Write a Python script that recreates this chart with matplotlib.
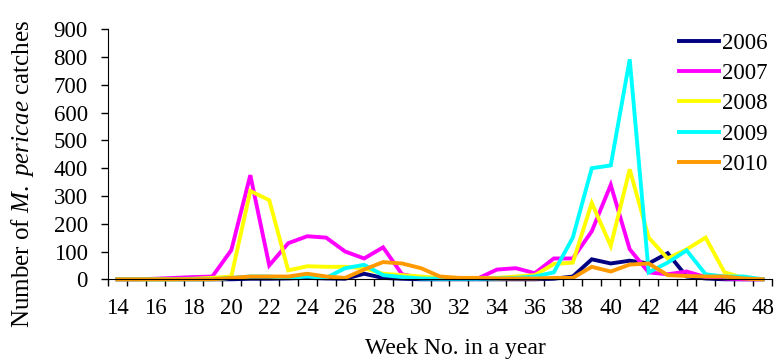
import matplotlib
matplotlib.use('Agg')
import matplotlib.pyplot as plt
from matplotlib.ticker import MultipleLocator, FixedLocator, FuncFormatter

plt.rcParams['font.family'] = 'Liberation Serif'
plt.rcParams['mathtext.fontset'] = 'custom'
plt.rcParams['mathtext.rm'] = 'Liberation Serif'
plt.rcParams['mathtext.it'] = 'Liberation Serif:italic'

weeks = list(range(14, 49))

# catches per week
y2006 = [0, 0, 0, 0, 0, 0, 0, 2, 2, 3, 5, 3, 2, 20, 5, 2, 0, 0, 0, 0,
         0, 0, 0, 2, 10, 72, 57, 67, 57, 94, 10, 3, 0, 0, 0]
y2007 = [0, 0, 2, 5, 8, 10, 105, 375, 50, 130, 155, 150, 100, 75, 115, 18, 5, 4, 5, 3,
         35, 40, 22, 75, 75, 173, 340, 108, 25, 18, 28, 8, 3, 0, 0]
y2008 = [0, 0, 0, 0, 2, 5, 10, 318, 285, 32, 47, 45, 45, 40, 20, 15, 10, 5, 5, 5,
         5, 10, 15, 55, 60, 275, 120, 396, 150, 75, 108, 150, 25, 5, 0]
y2009 = [0, 0, 0, 0, 0, 0, 5, 10, 10, 5, 10, 5, 40, 52, 15, 8, 3, 2, 2, 2,
         3, 5, 10, 25, 150, 400, 410, 792, 25, 60, 104, 18, 10, 10, 0]
y2010 = [0, 0, 0, 0, 0, 0, 5, 10, 10, 10, 20, 10, 5, 35, 62, 57, 40, 10, 5, 5,
         3, 3, 3, 5, 5, 45, 28, 53, 57, 15, 12, 10, 10, 3, 0]

series = [('2006', y2006, '#000080'),
          ('2007', y2007, '#FF00FF'),
          ('2008', y2008, '#FFFF00'),
          ('2009', y2009, '#00FFFF'),
          ('2010', y2010, '#FF9900')]

W, H = 777, 361
fig = plt.figure(figsize=(W / 100, H / 100), dpi=100)
ax = fig.add_axes([108 / W, 1 - 279.3 / H, 664 / W, 250 / H])

for label, vals, color in series:
    ax.plot(weeks, vals, color=color, linewidth=2.8, label=label,
            solid_joinstyle='miter', clip_on=False)

# category axis: tick marks between weeks, labels on even weeks
ax.set_xlim(13.5, 48.5)
ax.set_ylim(0, 900)
ax.xaxis.set_major_locator(FixedLocator([w - 0.5 for w in weeks] + [48.5]))
ax.xaxis.set_major_formatter(FuncFormatter(lambda x, _: ''))
ax.xaxis.set_minor_locator(FixedLocator([w for w in weeks if w % 2 == 0]))
ax.xaxis.set_minor_formatter(FuncFormatter(lambda x, _: f'{int(round(x))}'))
ax.tick_params(axis='x', which='major', direction='out', length=5, width=1)
ax.tick_params(axis='x', which='minor', length=0, pad=13.5, labelsize=16.5)

ax.yaxis.set_major_locator(MultipleLocator(100))
ax.tick_params(axis='y', direction='out', length=5, width=1, pad=9.5, labelsize=16.5)

ax.spines['top'].set_visible(False)
ax.spines['right'].set_visible(False)

ax.set_xlabel('Week No. in a year', fontsize=17)
ax.xaxis.set_label_coords(0.523, -0.235)
ax.set_ylabel(r'Number of $\mathit{M.}$ $\mathit{pericae}$ catches', fontsize=18)
ax.yaxis.set_label_coords(-0.108, 0.42)

fig.legend(loc='upper right', bbox_to_anchor=(768 / W, 1 - 33 / H), frameon=False,
           fontsize=16.5, handlelength=1.75, handletextpad=0.15, labelspacing=0.4,
           borderpad=0, borderaxespad=0)

fig.savefig('out.png', dpi=100)
